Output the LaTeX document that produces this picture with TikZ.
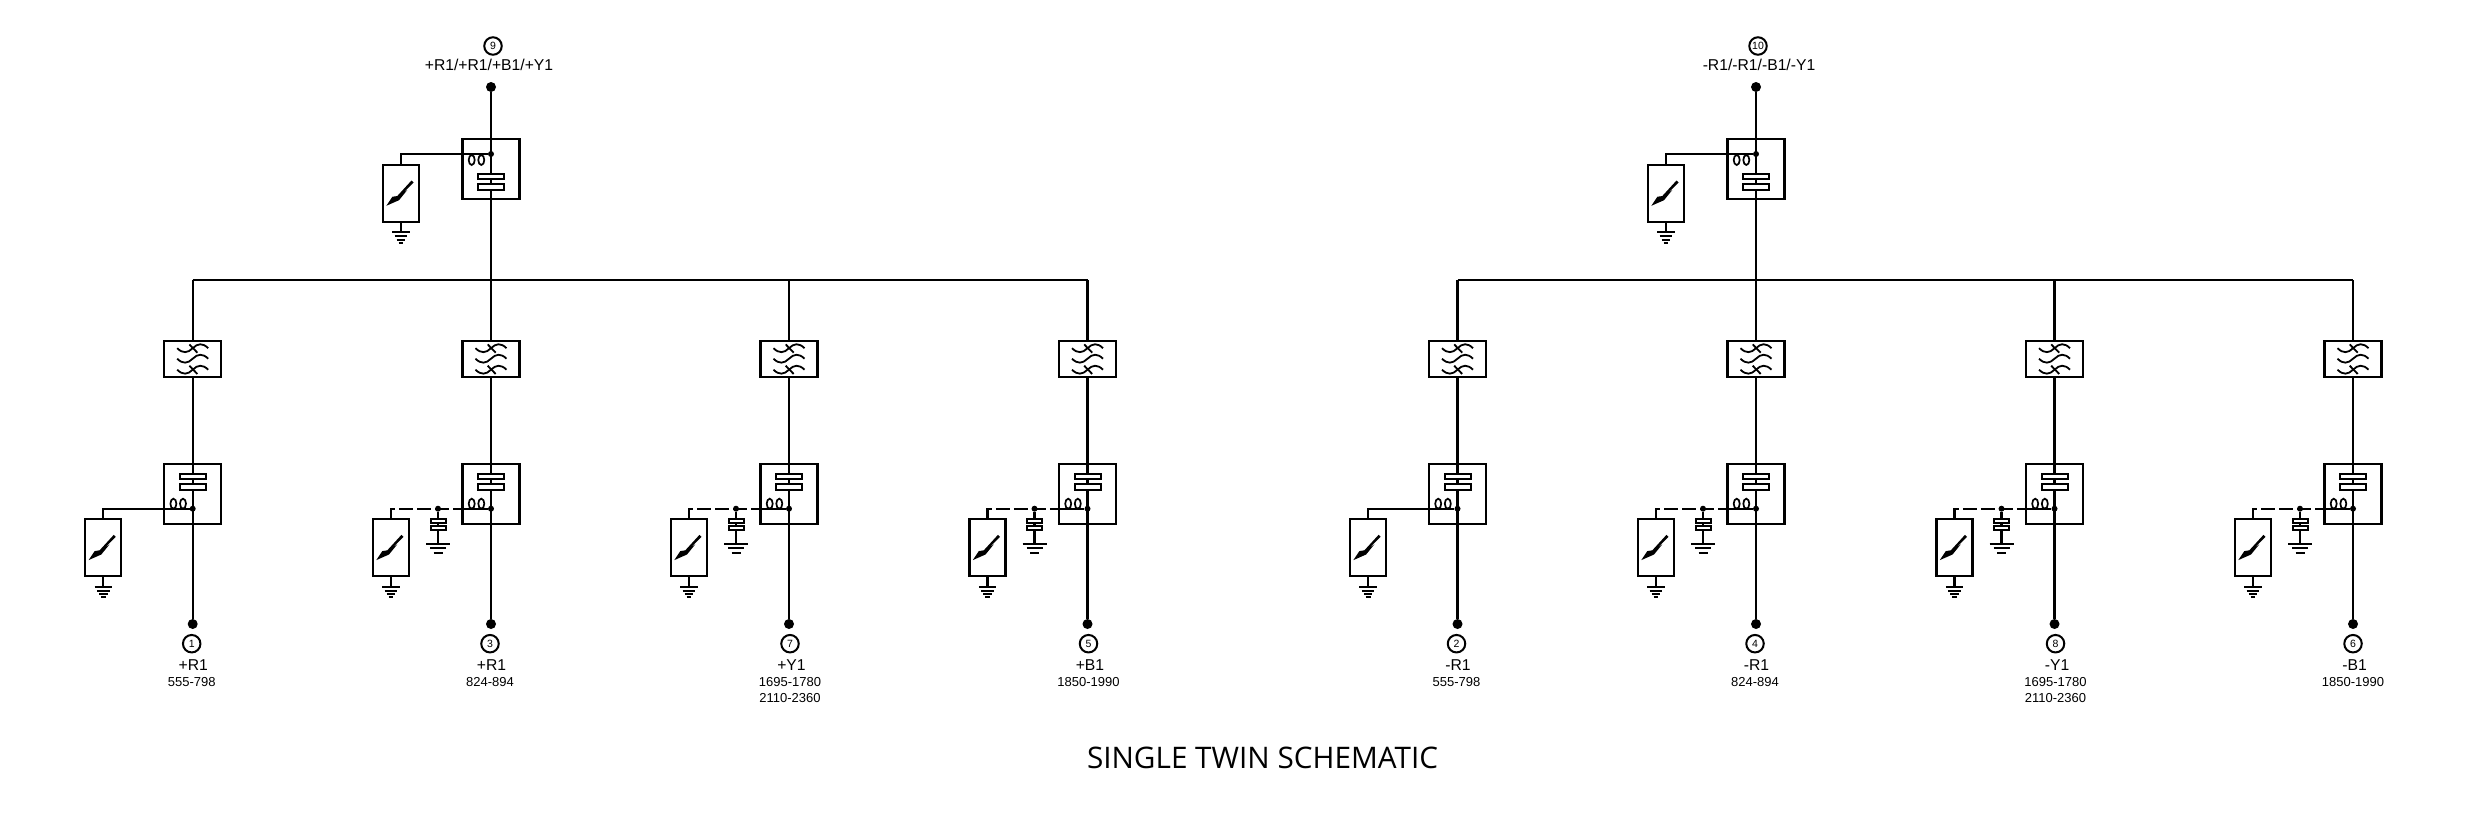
\documentclass[tikz,border=0pt]{standalone}
\usepackage{fontspec}
\setmainfont{Liberation Sans}
\newfontfamily\titlefont{Open Sans}
\tikzset{
  wire/.style={line width=2.3pt,line cap=butt},
  dashwire/.style={wire,dash pattern=on 14pt off 4pt},
  unitbox/.style={draw,line width=2.1pt,minimum width=57pt,inner sep=0pt},
  arrbox/.style={draw,line width=2.1pt,minimum width=36pt,minimum height=57pt,inner sep=0pt},
  enddot/.style={circle,fill=black,minimum size=10pt,inner sep=0pt},
  joint/.style={circle,fill=black,minimum size=6pt,inner sep=0pt},
  portmark/.style={draw,circle,line width=2pt,minimum size=17.5pt,inner sep=0pt,font=\fontsize{10.5}{11}\selectfont},
  namelabel/.style={font=\fontsize{15.7}{17}\selectfont},
  bandlabel/.style={font=\fontsize{13}{16}\selectfont,align=center,anchor=north},
  pics/capbig/.style={code={
    \draw[line width=2pt,fill=white] (-13,-8) rectangle (13,-2.5);
    \draw[line width=2pt,fill=white] (-13,2) rectangle (13,8);
  }},
  pics/capsmall/.style={code={
    \draw[line width=2pt,fill=white] (-7.5,-5.5) rectangle (7.5,-1.5);
    \draw[line width=2pt,fill=white] (-7.5,1.5) rectangle (7.5,5.5);
  }},
  pics/coils/.style={code={
    \draw[line width=1.7pt] (-4.8,0) ellipse [x radius=3,y radius=5];
    \draw[line width=1.7pt] (4.8,0) ellipse [x radius=3,y radius=5];
  }},
  pics/waves/.style={code={
    \foreach \w in {-10.5,0,11}
      \draw[line width=1.8pt] (-15.5,\w) .. controls (-10,\w+5.5) and (-5,\w+5) .. (0,\w) .. controls (5,\w-5) and (10,\w-5.5) .. (15.5,\w);
    \draw[line width=1.8pt] (-3.3,-14.3) -- (4.7,-6);
    \draw[line width=1.8pt] (-3.3,7) -- (4.7,15.3);
  }},
  pics/earth/.style={code={
    \draw[line width=2pt] (-8.7,0) -- (8.7,0);
    \draw[line width=2pt] (-6.3,4) -- (6.3,4);
    \draw[line width=2pt] (-4.3,7.3) -- (4.3,7.3);
    \draw[line width=2pt] (-2.4,10.3) -- (2.4,10.3);
  }},
  pics/earthwide/.style={code={
    \draw[line width=2pt] (-12,0) -- (12,0);
    \draw[line width=2pt] (-8,4.3) -- (8,4.3);
    \draw[line width=2pt] (-4.5,8.7) -- (4.5,8.7);
  }},
  pics/arrester/.style={code={
    \node[arrbox] (body) at (0,0) {};
    \fill (-14.7,12.3) -- (-8.7,3.3) -- (-3.7,2.5) -- (10.5,-13) -- (12.5,-11) -- (1,0.5) -- (6.3,-3.5) -- (-2,6.7) -- cycle;
    \coordinate (foot) at (0,38.9);
    \draw[wire] (body.south) -- (foot);
    \pic at (foot) {earth};
  }},
}

\begin{document}
\begin{tikzpicture}[x=1pt,y=-1pt]
\useasboundingbox (0,0) rectangle (2480,819);

% output columns
\foreach \n/\x/\dx/\lab/\band in {1/192.7/-1/+R1/555-798,3/491/-1/+R1/824-894,7/789/1/+Y1/{1695-1780\\2110-2360},5/1087.5/1/+B1/1850-1990,
  2/1457.5/-1/-R1/555-798,4/1756/-1/-R1/824-894,8/2054.5/1/-Y1/{1695-1780\\2110-2360},6/2353/0/-B1/1850-1990}
{
  \coordinate (bus\n) at (\x,280);
  \node[unitbox,minimum height=36pt] (flt\n) at (\x,358.7) {};
  \node[unitbox,minimum height=60pt] (dup\n) at (\x,494) {};
  \node[joint] (jn\n) at (\x,508.7) {};
  \node[enddot] (out\n) at (\x,624) {};
  \node[portmark] (port\n) at (\x+\dx,643.7) {\n};
  \node[namelabel] (name\n) at (\x+\dx+1.5,665) {\lab};
  \node[bandlabel] (band\n) at (\x+\dx,673.7) {\band};
  \draw[wire] (bus\n) -- (flt\n.north);
  \draw[wire] (flt\n.south) -- (dup\n.north);
  \draw[wire] (dup\n.north) -- (out\n);
  \pic at (\x,358.7) {waves};
  \pic at (\x,481.8) {capbig};
  \pic at (\x-14.5,503.7) {coils};
}

% feed to the first arrester, no tuning stub
\foreach \n/\x in {1/192.7,2/1457.5}
{
  \pic (arr\n) at (\x-89.4,547.8) {arrester};
  \draw[wire] (jn\n) -| (arr\n body.north);
}

% feed with stub
\foreach \n/\x in {3/491,7/789,5/1087.5,4/1756,8/2054.5,6/2353}
{
  \pic (arr\n) at (\x-100,547.8) {arrester};
  \node[joint] (stub\n) at (\x-53,508.7) {};
  \coordinate (gnd\n) at (\x-53,544);
  \draw[wire] (jn\n) -- (dup\n.west |- jn\n);
  \draw[dashwire] (arr\n body.north) |- (dup\n.west |- jn\n);
  \draw[wire] (stub\n) -- (gnd\n);
  \pic at (\x-53,524.7) {capsmall};
  \pic at (gnd\n) {earthwide};
}

% common ports
\foreach \n/\x/\lx/\b/\lab in {9/491/489/3/{+R1/+R1/+B1/+Y1},10/1756/1759/4/{-R1/-R1/-B1/-Y1}}
{
  \node[portmark] (port\n) at (\x+2,46) {\n};
  \node[namelabel] (name\n) at (\lx,65) {\lab};
  \node[enddot] (in\n) at (\x,87) {};
  \node[unitbox,minimum height=60pt] (dup\n) at (\x,169) {};
  \node[joint] (jn\n) at (\x,154) {};
  \draw[wire] (in\n) -- (bus\b);
  \pic at (\x,181.7) {capbig};
  \pic at (\x-14.5,160) {coils};
  \pic (arr\n) at (\x-90,193.5) {arrester};
  \draw[wire] (jn\n) -| (arr\n body.north);
}

\draw[wire] (bus1) -- (bus5);
\draw[wire] (bus2) -- (bus6);

\node[font=\fontsize{29.7}{32}\selectfont\titlefont] (title) at (1262.5,757.7) {SINGLE TWIN SCHEMATIC};
\end{tikzpicture}
\end{document}
